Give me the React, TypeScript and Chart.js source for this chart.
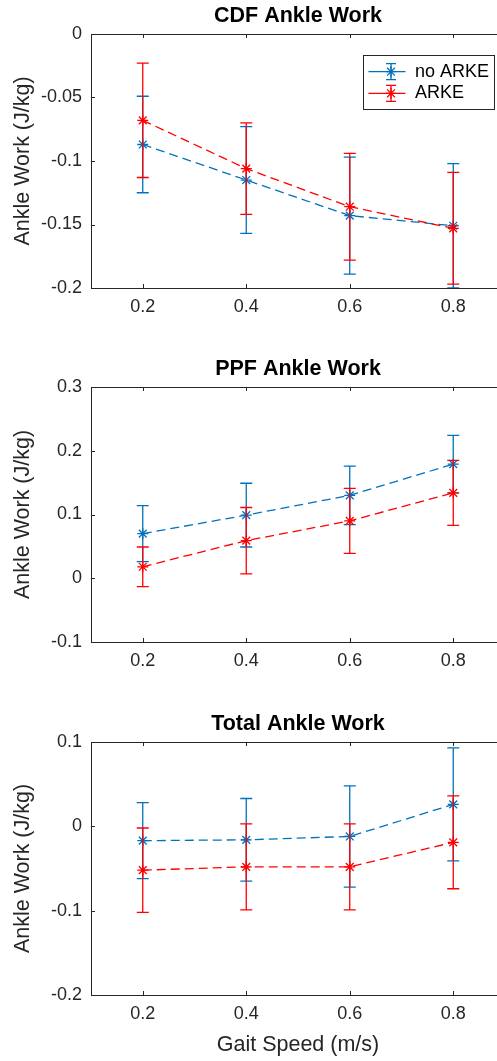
import React, { useEffect, useRef } from "react";
import { Chart, registerables } from "chart.js";

Chart.register(...registerables);

// Gait speeds (m/s) and their axis labels
const speeds = [0.2, 0.4, 0.6, 0.8];
const speedLabels = ["0.2", "0.4", "0.6", "0.8"];

// Controlled dorsiflexion (CDF) work, mean and error half-width
const cdfNoArke = [-0.087, -0.115, -0.143, -0.151];
const cdfNoArkeErr = [0.038, 0.042, 0.046, 0.049];
const cdfArke = [-0.068, -0.106, -0.136, -0.153];
const cdfArkeErr = [0.045, 0.036, 0.042, 0.044];
const cdfYTicks = [-0.2, -0.15, -0.1, -0.05, 0];
const cdfYLabels = ["-0.2", "-0.15", "-0.1", "-0.05", "0"];

// Powered plantarflexion (PPF) work
const ppfNoArke = [0.07, 0.099, 0.13, 0.179];
const ppfNoArkeErr = [0.044, 0.05, 0.046, 0.045];
const ppfArke = [0.018, 0.059, 0.09, 0.134];
const ppfArkeErr = [0.031, 0.052, 0.051, 0.051];
const ppfYTicks = [-0.1, 0, 0.1, 0.2, 0.3];
const ppfYLabels = ["-0.1", "0", "0.1", "0.2", "0.3"];

// Total ankle work
const totalNoArke = [-0.017, -0.016, -0.012, 0.026];
const totalNoArkeErr = [0.045, 0.049, 0.06, 0.067];
const totalArke = [-0.052, -0.048, -0.048, -0.019];
const totalArkeErr = [0.05, 0.051, 0.051, 0.055];
const totalYTicks = [-0.2, -0.1, 0, 0.1];
const totalYLabels = ["-0.2", "-0.1", "0", "0.1"];

const BLUE = "#0072BD";
const RED = "#FF0000";
const AXIS = "#262626";
const FONT = "'Liberation Sans', Arial, Helvetica, sans-serif";

const CANVAS_W = 520;
const AXIS_LEFT = 91;
const RIGHT_PAD = 15;

type Panel = {
  title: string;
  top: number;
  areaHeight: number;
  axisHeight: number;
  yTicks: number[];
  yLabels: string[];
  noArke: number[];
  noArkeErr: number[];
  arke: number[];
  arkeErr: number[];
  xTitle?: string;
  legend?: boolean;
};

// Vertical error bars with caps, drawn just under each series' line and markers
const errorBarPlugin = {
  id: "errorBars",
  beforeDatasetDraw(chart: any, args: any) {
    const ds = chart.data.datasets[args.index];
    const errs: number[] | undefined = ds.errors;
    if (!errs) return;
    const { ctx, chartArea, scales } = chart;
    ctx.save();
    ctx.beginPath();
    ctx.rect(chartArea.left, chartArea.top, chartArea.right - chartArea.left, chartArea.bottom - chartArea.top);
    ctx.clip();
    ctx.strokeStyle = ds.borderColor;
    ctx.lineWidth = 1.3;
    ctx.setLineDash([]);
    ds.data.forEach((pt: { x: number; y: number }, i: number) => {
      const px = scales.x.getPixelForValue(pt.x);
      const hi = scales.y.getPixelForValue(pt.y + errs[i]);
      const lo = scales.y.getPixelForValue(pt.y - errs[i]);
      ctx.beginPath();
      ctx.moveTo(px, hi);
      ctx.lineTo(px, lo);
      ctx.moveTo(px - 6, hi);
      ctx.lineTo(px + 6, hi);
      ctx.moveTo(px - 6, lo);
      ctx.lineTo(px + 6, lo);
      ctx.stroke();
    });
    ctx.restore();
  },
};

// Boxed axes with inward tick marks
const axesBoxPlugin = {
  id: "axesBox",
  beforeDatasetsDraw(chart: any) {
    const { ctx, chartArea, scales } = chart;
    const { left, right, top, bottom } = chartArea;
    const tl = 4;
    ctx.save();
    ctx.strokeStyle = AXIS;
    ctx.lineWidth = 1;
    ctx.setLineDash([]);
    ctx.strokeRect(left + 0.5, top + 0.5, right - left, bottom - top);
    ctx.beginPath();
    scales.x.ticks.forEach((t: any) => {
      const px = Math.round(scales.x.getPixelForValue(t.value)) + 0.5;
      ctx.moveTo(px, bottom);
      ctx.lineTo(px, bottom - tl);
      ctx.moveTo(px, top);
      ctx.lineTo(px, top + tl);
    });
    scales.y.ticks.forEach((t: any) => {
      const py = Math.round(scales.y.getPixelForValue(t.value)) + 0.5;
      ctx.moveTo(left, py);
      ctx.lineTo(left + tl, py);
      ctx.moveTo(right, py);
      ctx.lineTo(right - tl, py);
    });
    ctx.stroke();
    ctx.restore();
  },
};

// Boxed legend in the upper-right corner of the plot area
const boxLegendPlugin = {
  id: "boxLegend",
  afterDraw(chart: any) {
    const { ctx, chartArea } = chart;
    const bx = chartArea.right - 142;
    const by = chartArea.top + 21;
    const bw = 130.5;
    const bh = 54;
    ctx.save();
    ctx.fillStyle = "#ffffff";
    ctx.fillRect(bx, by, bw, bh);
    ctx.strokeStyle = AXIS;
    ctx.lineWidth = 1;
    ctx.strokeRect(Math.round(bx) + 0.5, Math.round(by) + 0.5, Math.round(bw), Math.round(bh));
    const rows = [16.7, 38.3];
    const sets = [...chart.data.datasets].sort((a: any, b: any) => a.legendRank - b.legendRank);
    sets.forEach((ds: any, i: number) => {
      const y = by + rows[i];
      const cx = bx + 28;
      ctx.strokeStyle = ds.borderColor;
      ctx.lineWidth = 1.3;
      ctx.setLineDash([]);
      ctx.beginPath();
      ctx.moveTo(bx + 5.5, y);
      ctx.lineTo(bx + 42.5, y);
      ctx.moveTo(cx, y - 8);
      ctx.lineTo(cx, y + 8);
      ctx.moveTo(cx - 5, y - 8);
      ctx.lineTo(cx + 5, y - 8);
      ctx.moveTo(cx - 5, y + 8);
      ctx.lineTo(cx + 5, y + 8);
      ctx.stroke();
      ctx.beginPath();
      const r = 5.5;
      const d = r * Math.SQRT1_2;
      ctx.moveTo(cx - r, y);
      ctx.lineTo(cx + r, y);
      ctx.moveTo(cx, y - r);
      ctx.lineTo(cx, y + r);
      ctx.moveTo(cx - d, y - d);
      ctx.lineTo(cx + d, y + d);
      ctx.moveTo(cx - d, y + d);
      ctx.lineTo(cx + d, y - d);
      ctx.stroke();
      ctx.fillStyle = "#000000";
      ctx.font = `18px ${FONT}`;
      ctx.textBaseline = "middle";
      ctx.textAlign = "left";
      ctx.fillText(ds.label, bx + 52, y);
    });
    ctx.restore();
  },
};

const panels: Panel[] = [
  {
    title: "CDF Ankle Work",
    top: 0,
    areaHeight: 254,
    axisHeight: 34,
    yTicks: cdfYTicks,
    yLabels: cdfYLabels,
    noArke: cdfNoArke,
    noArkeErr: cdfNoArkeErr,
    arke: cdfArke,
    arkeErr: cdfArkeErr,
    legend: true,
  },
  {
    title: "PPF Ankle Work",
    top: 353,
    areaHeight: 255,
    axisHeight: 34,
    yTicks: ppfYTicks,
    yLabels: ppfYLabels,
    noArke: ppfNoArke,
    noArkeErr: ppfNoArkeErr,
    arke: ppfArke,
    arkeErr: ppfArkeErr,
  },
  {
    title: "Total Ankle Work",
    top: 708,
    areaHeight: 253,
    axisHeight: 66,
    yTicks: totalYTicks,
    yLabels: totalYLabels,
    noArke: totalNoArke,
    noArkeErr: totalNoArkeErr,
    arke: totalArke,
    arkeErr: totalArkeErr,
    xTitle: "Gait Speed (m/s)",
  },
];

const TITLE_BLOCK = 34;

function PanelChart({ p }: { p: Panel }) {
  const ref = useRef<HTMLCanvasElement | null>(null);
  const height = TITLE_BLOCK + p.areaHeight + p.axisHeight;

  useEffect(() => {
    if (!ref.current) return;
    const series = (vals: number[]) => vals.map((v, i) => ({ x: speeds[i], y: v }));
    const makeSet = (label: string, vals: number[], errs: number[], color: string, order: number, legendRank: number) => ({
      label,
      data: series(vals),
      errors: errs,
      legendRank,
      order,
      borderColor: color,
      backgroundColor: color,
      borderWidth: 1.3,
      borderDash: [9, 5],
      tension: 0,
      fill: false,
      pointStyle: "star",
      pointRadius: 5.5,
      pointBorderWidth: 1.3,
      pointBorderColor: color,
      pointBackgroundColor: color,
    });

    const chart = new Chart(ref.current, {
      type: "line",
      data: {
        datasets: [
          makeSet("no ARKE", p.noArke, p.noArkeErr, BLUE, 1, 0),
          makeSet("ARKE", p.arke, p.arkeErr, RED, 0, 1),
        ] as any,
      },
      options: {
        responsive: false,
        animation: false,
        events: [],
        layout: { padding: { left: 0, right: RIGHT_PAD, top: 0, bottom: 0 } },
        plugins: {
          legend: { display: false },
          tooltip: { enabled: false },
          title: {
            display: true,
            fullSize: false,
            text: p.title,
            color: "#000000",
            font: { family: FONT, size: 21.5, weight: "bold", lineHeight: 24 / 21.5 },
            padding: { top: 4, bottom: 6 },
          },
        },
        scales: {
          x: {
            type: "linear",
            min: 0.1,
            max: 0.9,
            grid: { display: false, drawTicks: false },
            border: { display: false },
            afterFit: (s: any) => {
              s.height = p.axisHeight;
            },
            afterBuildTicks: (s: any) => {
              s.ticks = speeds.map((v) => ({ value: v }));
            },
            ticks: {
              color: AXIS,
              padding: 8,
              autoSkip: false,
              maxRotation: 0,
              font: { family: FONT, size: 18 },
              callback: (_v: any, i: number) => speedLabels[i],
            },
            title: p.xTitle
              ? {
                  display: true,
                  text: p.xTitle,
                  color: AXIS,
                  font: { family: FONT, size: 21.5, lineHeight: 24 / 21.5 },
                  padding: { top: 0, bottom: 4 },
                }
              : { display: false },
          },
          y: {
            type: "linear",
            min: p.yTicks[0],
            max: p.yTicks[p.yTicks.length - 1],
            grid: { display: false, drawTicks: false },
            border: { display: false },
            afterFit: (s: any) => {
              s.width = AXIS_LEFT;
            },
            afterBuildTicks: (s: any) => {
              s.ticks = p.yTicks.map((v) => ({ value: v }));
            },
            ticks: {
              color: AXIS,
              padding: 9,
              autoSkip: false,
              font: { family: FONT, size: 18 },
              callback: (_v: any, i: number) => p.yLabels[i],
            },
            title: {
              display: true,
              text: "Ankle Work (J/kg)",
              color: AXIS,
              font: { family: FONT, size: 21.5, lineHeight: 24 / 21.5 },
              padding: { top: 11, bottom: 0 },
            },
          },
        },
      } as any,
      plugins: p.legend ? [axesBoxPlugin, errorBarPlugin, boxLegendPlugin] : [axesBoxPlugin, errorBarPlugin],
    });
    return () => chart.destroy();
  }, [p]);

  return (
    <canvas
      ref={ref}
      width={CANVAS_W}
      height={height}
      style={{ position: "absolute", left: 0, top: p.top, width: CANVAS_W, height }}
    />
  );
}

export default function App() {
  return (
    <div
      style={{
        position: "fixed",
        left: 0,
        top: 0,
        width: 497,
        height: 1061,
        overflow: "hidden",
        background: "#ffffff",
      }}
    >
      {panels.map((p) => (
        <PanelChart key={p.title} p={p} />
      ))}
    </div>
  );
}
